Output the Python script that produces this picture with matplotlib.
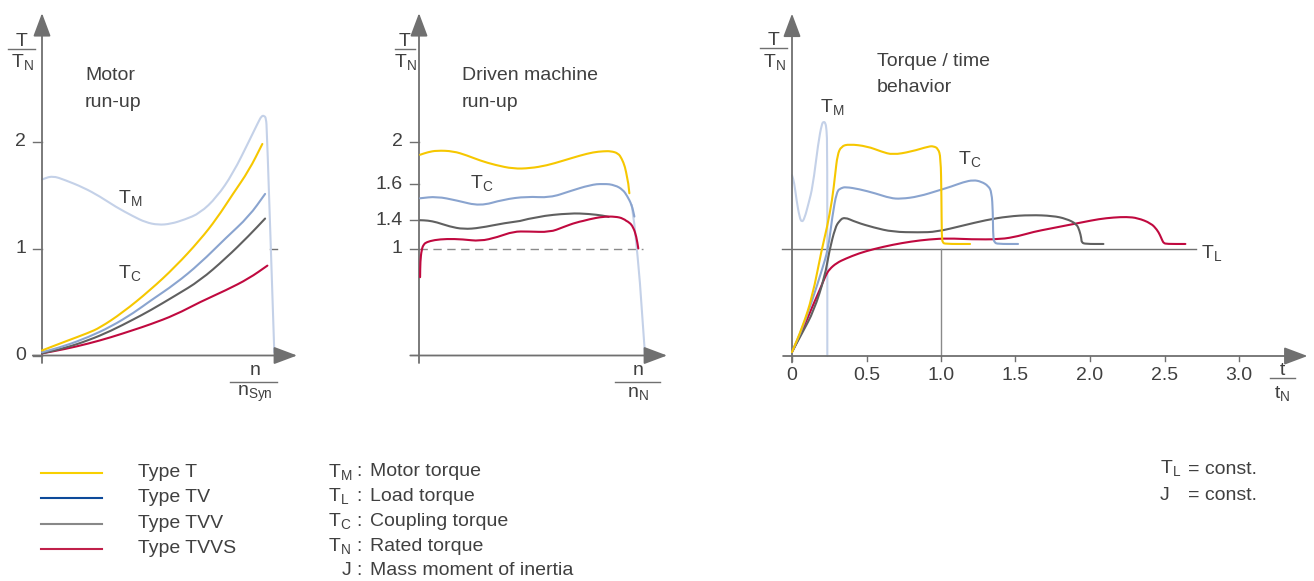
import numpy as np
import matplotlib
matplotlib.use('Agg')
import matplotlib.pyplot as plt
from matplotlib.lines import Line2D
from matplotlib.path import Path
from matplotlib.patches import PathPatch

plt.rcParams['font.family'] = ['Liberation Sans', 'DejaVu Sans']
plt.rcParams['mathtext.default'] = 'regular'

# ---- data -------------------------------------------------------------
# Motor run-up (x = n/nSyn, y = T/TN)
tm_left_x = [0, 0.045, 0.1, 0.18, 0.252, 0.32, 0.397, 0.45, 0.505, 0.56, 0.62, 0.687, 0.76, 0.83,
             0.904, 0.94, 0.955, 0.966, 0.974, 0.978, 1.01]
tm_left_y = [1.645, 1.68, 1.64, 1.57, 1.486, 1.39, 1.30, 1.245, 1.22, 1.23, 1.27, 1.33, 1.48, 1.70,
             2.02, 2.18, 2.24, 2.24, 2.22, 2.1, 0.03]
t_left_x = [0, 0.1, 0.2, 0.252, 0.35, 0.47, 0.58, 0.687, 0.76, 0.83, 0.9, 0.958]
t_left_y = [0.047, 0.13, 0.21, 0.26, 0.40, 0.61, 0.83, 1.08, 1.28, 1.51, 1.73, 1.977]
tv_left_x = [0, 0.1, 0.2, 0.3, 0.4, 0.47, 0.58, 0.687, 0.8, 0.9, 0.97]
tv_left_y = [0.03, 0.09, 0.17, 0.27, 0.40, 0.51, 0.67, 0.86, 1.10, 1.30, 1.51]
tvv_left_x = [0, 0.1, 0.2, 0.3, 0.4, 0.47, 0.58, 0.687, 0.8, 0.9, 0.97]
tvv_left_y = [0.02, 0.07, 0.14, 0.23, 0.34, 0.42, 0.56, 0.70, 0.91, 1.12, 1.28]
tvvs_left_x = [0, 0.1, 0.2, 0.3, 0.4, 0.47, 0.58, 0.687, 0.8, 0.9, 0.98]
tvvs_left_y = [0.02, 0.06, 0.11, 0.17, 0.24, 0.29, 0.38, 0.50, 0.61, 0.72, 0.84]

# Driven machine run-up (x = n/nN)
t_mid_x = [0.005, 0.04, 0.081, 0.157, 0.22, 0.28, 0.35, 0.433, 0.51, 0.586, 0.66, 0.739, 0.8, 0.846,
           0.88, 0.914, 0.93, 0.945, 0.955, 0.965]
t_mid_y = [1.876, 1.9, 1.916, 1.91, 1.87, 1.822, 1.78, 1.745, 1.75, 1.776, 1.82, 1.869, 1.9, 1.909,
           1.91, 1.89, 1.84, 1.765, 1.66, 1.55]
tv_mid_x = [0.005, 0.081, 0.173, 0.28, 0.387, 0.494, 0.601, 0.693, 0.784, 0.846, 0.9, 0.935, 0.955,
            0.976, 0.988]
tv_mid_y = [1.522, 1.532, 1.51, 1.478, 1.515, 1.532, 1.525, 1.562, 1.596, 1.605, 1.595, 1.57, 1.535,
            1.485, 1.42]
tm_mid_x = [0.976, 0.99, 1.037]
tm_mid_y = [1.485, 1.35, 0.0]
tvv_mid_x = [0.005, 0.04, 0.081, 0.14, 0.204, 0.28, 0.387, 0.54, 0.693, 0.78, 0.846, 0.87]
tvv_mid_y = [1.399, 1.395, 1.371, 1.31, 1.272, 1.29, 1.357, 1.42, 1.439, 1.435, 1.425, 1.418]
tvvs_mid_x = [0.005, 0.006, 0.012, 0.022, 0.035, 0.07, 0.127, 0.2, 0.28, 0.36, 0.433, 0.5, 0.601,
              0.66, 0.723, 0.78, 0.846, 0.9, 0.937, 0.965, 0.983, 0.997, 1.006]
tvvs_mid_y = [0.732, 0.88, 0.99, 1.06, 1.09, 1.12, 1.136, 1.13, 1.103, 1.16, 1.24, 1.24, 1.23,
              1.3, 1.371, 1.405, 1.42, 1.42, 1.41, 1.37, 1.30, 1.17, 1.0]
mid_ticks = [1, 1.4, 1.6, 2]
# the middle axis is drawn schematically, not to scale
mid_val_knots = [-1, 0, 1, 1.4, 1.6, 2, 4]
mid_pos_knots = [-1, 0, 1, 1.265, 1.6, 2, 4]

# Torque / time behavior (x = t/tN)
tm_r_x = [0, 0.015, 0.03, 0.05, 0.066, 0.085, 0.11, 0.139, 0.176, 0.2, 0.212, 0.224, 0.232, 0.237, 0.237]
tm_r_y = [1.69, 1.62, 1.46, 1.3, 1.247, 1.29, 1.42, 1.58, 1.99, 2.17, 2.19, 2.18, 2.12, 1.95, 0.0]
t_r_x = [0, 0.07, 0.136, 0.2, 0.235, 0.27, 0.29, 0.305, 0.33, 0.383, 0.505, 0.6, 0.676, 0.8, 0.92,
         0.95, 0.98, 0.998, 1.003, 1.005, 1.012, 1.027, 1.195]
t_r_y = [0.037, 0.27, 0.55, 1.0, 1.2, 1.46, 1.7, 1.88, 1.96, 1.98, 1.96, 1.91, 1.88, 1.91, 1.96,
         1.96, 1.94, 1.86, 1.5, 1.1, 1.06, 1.047, 1.047]
tv_r_x = [0, 0.07, 0.136, 0.2, 0.243, 0.27, 0.3, 0.33, 0.36, 0.45, 0.56, 0.66, 0.73, 0.85, 0.99, 1.07,
          1.15, 1.217, 1.27, 1.318, 1.34, 1.348, 1.35, 1.36, 1.38, 1.517]
tv_r_y = [0.037, 0.26, 0.52, 0.80, 1.0, 1.3, 1.54, 1.57, 1.58, 1.56, 1.52, 1.475, 1.468, 1.49, 1.55,
          1.584, 1.625, 1.645, 1.63, 1.59, 1.53, 1.35, 1.1, 1.06, 1.047, 1.047]
tvv_r_x = [0, 0.07, 0.146, 0.22, 0.25, 0.29, 0.316, 0.35, 0.43, 0.55, 0.676, 0.85, 0.97, 1.15, 1.3,
           1.45, 1.6, 1.75, 1.84, 1.91, 1.93, 1.942, 1.944, 1.97, 2.09]
tvv_r_y = [0.037, 0.22, 0.42, 0.74, 0.98, 1.2, 1.26, 1.3, 1.25, 1.2, 1.16, 1.155, 1.16, 1.22, 1.27,
           1.305, 1.318, 1.31, 1.283, 1.235, 1.17, 1.1, 1.06, 1.047, 1.047]
tvvs_r_x = [0, 0.07, 0.136, 0.19, 0.225, 0.25, 0.3, 0.36, 0.45, 0.55, 0.676, 0.8, 0.92, 1.05, 1.2,
            1.4, 1.52, 1.62, 1.73, 1.84, 1.95, 2.06, 2.16, 2.246, 2.32, 2.41, 2.45, 2.47, 2.485,
            2.495, 2.515, 2.64]
tvvs_r_y = [0.037, 0.24, 0.46, 0.63, 0.75, 0.81, 0.87, 0.91, 0.96, 1.0, 1.04, 1.07, 1.09, 1.1, 1.09,
            1.09, 1.12, 1.16, 1.19, 1.22, 1.25, 1.28, 1.295, 1.30, 1.29, 1.24, 1.18, 1.13, 1.08,
            1.055, 1.047, 1.047]
time_ticks = [0, 0.5, 1.0, 1.5, 2.0, 2.5, 3.0]
time_labels = ['0', '0.5', '1.0', '1.5', '2.0', '2.5', '3.0']

legend_names = ['Type T', 'Type TV', 'Type TVV', 'Type TVVS']
legend_colors = ['#f8d000', '#0d4a9a', '#888888', '#c0204a']
symbols = ['T$_M$', 'T$_L$', 'T$_C$', 'T$_N$']
symbol_text = ['Motor torque', 'Load torque', 'Coupling torque', 'Rated torque', 'Mass moment of inertia']

# ---- style ------------------------------------------------------------
YEL = '#f6c700'
BLU = '#8aa4cf'
GRY = '#606060'
RED = '#c0093f'
TMC = '#c4d1e8'
AXC = '#707070'
TXT = '#404040'
FS = 14
LW = 1.5

W, H = 1314, 581
fig = plt.figure(figsize=(W / 100, H / 100), dpi=100)


def panel(x0, y0, sx, sy, xlim, ylim):
    # x0, y0: pixel position of data origin, sx, sy: pixels per unit
    left = x0 + xlim[0] * sx
    right = x0 + xlim[1] * sx
    top = y0 - ylim[1] * sy
    bottom = y0 - ylim[0] * sy
    ax = fig.add_axes([left / W, 1 - bottom / H, (right - left) / W, (bottom - top) / H])
    ax.set_xlim(xlim)
    ax.set_ylim(ylim)
    ax.axis('off')
    return ax


def arrows(ax, x0, x1, y0, y1):
    ap = dict(arrowstyle='-|>,head_length=0.8,head_width=0.3', color=AXC, lw=1.3,
              shrinkA=0, shrinkB=0, mutation_scale=18)
    ax.annotate('', xy=(x1, 0), xytext=(x0, 0), arrowprops=ap)
    ax.annotate('', xy=(0, y1), xytext=(0, y0), arrowprops=ap)


def ftext(x, y, s, **kw):
    kw.setdefault('fontsize', FS)
    kw.setdefault('color', TXT)
    fig.text(x / W, 1 - y / H, s, **kw)


def fline(x1, x2, y, color=AXC, lw=1.0):
    fig.add_artist(Line2D([x1 / W, x2 / W], [1 - y / H, 1 - y / H], color=color, lw=lw))


def frac(xc, yl, x1, x2, top, bottom, top_base, bot_base):
    ftext(xc, top_base, top, ha='center', va='baseline')
    fline(x1, x2, yl)
    ftext(xc, bot_base, bottom, ha='center', va='baseline')


def curve(ax, x, y, c, z=3):
    # rounded drawing of the read points (quadratic pieces between midpoints)
    p = np.column_stack([x, y]).astype(float)
    verts = [p[0]]
    codes = [Path.MOVETO]
    if len(p) > 2:
        verts.append((p[0] + p[1]) / 2)
        codes.append(Path.LINETO)
        for i in range(1, len(p) - 1):
            verts += [p[i], (p[i] + p[i + 1]) / 2]
            codes += [Path.CURVE3, Path.CURVE3]
    verts.append(p[-1])
    codes.append(Path.LINETO)
    ax.add_patch(PathPatch(Path(verts, codes), fill=False, edgecolor=c, lw=LW, zorder=z,
                           capstyle='round', joinstyle='round'))


# ---- left: motor run-up ----------------------------------------------
axL = panel(42, 355.5, 230, 107, (-0.1, 1.2), (-0.12, 3.25))
arrows(axL, -0.04, 1.109, -0.07, 3.2)
for v in [0, 1, 2]:
    axL.plot([-0.04, 0], [v, v], color=AXC, lw=1.0)
    axL.text(-0.068, v, str(v), ha='right', va='center', fontsize=FS, color=TXT)
axL.plot([0.99, 1.02], [1, 1], color=AXC, lw=1.0)
curve(axL, tm_left_x, tm_left_y, TMC, 2)
curve(axL, tvvs_left_x, tvvs_left_y, RED)
curve(axL, tvv_left_x, tvv_left_y, GRY)
curve(axL, tv_left_x, tv_left_y, BLU)
curve(axL, t_left_x, t_left_y, YEL)
ftext(85, 80, 'Motor', va='baseline')
ftext(85, 107, 'run-up', va='baseline')
ftext(118, 203, 'T$_M$', va='baseline')
ftext(118, 278, 'T$_C$', va='baseline')
frac(22, 48.5, 8, 35, 'T', 'T$_N$', 46.5, 66.5)
frac(255, 381.7, 230, 277, 'n', 'n$_{Syn}$', 375, 396.5)

# ---- middle: driven machine run-up ----------------------------------
axM = panel(419, 355.5, 218, 107, (-0.1, 1.25), (-0.12, 3.25))
fwd = lambda v: np.interp(v, mid_val_knots, mid_pos_knots)
inv = lambda p: np.interp(p, mid_pos_knots, mid_val_knots)
axM.set_yscale('function', functions=(fwd, inv))
axM.set_ylim(-0.12, 3.25)
axM.axis('off')
arrows(axM, -0.04, 1.138, -0.07, 3.2)
for v in mid_ticks:
    axM.plot([-0.041, 0], [v, v], color=AXC, lw=1.0)
    axM.text(-0.075, v, f'{v:g}', ha='right', va='center', fontsize=FS, color=TXT)
axM.plot([0, 1.027], [1, 1], color='#8a8a8a', lw=1.0, ls=(0, (6, 4)))
curve(axM, tm_mid_x, tm_mid_y, TMC, 2)
curve(axM, tvv_mid_x, tvv_mid_y, GRY)
curve(axM, tvvs_mid_x, tvvs_mid_y, RED)
curve(axM, tv_mid_x, tv_mid_y, BLU)
curve(axM, t_mid_x, t_mid_y, YEL)
ftext(462, 80, 'Driven machine', va='baseline')
ftext(462, 107, 'run-up', va='baseline')
ftext(470, 188, 'T$_C$', va='baseline')
frac(405, 48.5, 395, 415, 'T', 'T$_N$', 46.5, 66.5)
frac(638, 381.7, 615, 660, 'n', 'n$_N$', 375, 396.5)

# ---- right: torque / time behaviour ---------------------------------
axR = panel(792, 356, 149, 107, (-0.2, 3.55), (-0.3, 3.25))
arrows(axR, -0.06, 3.46, -0.06, 3.2)
for t, lab in zip(time_ticks, time_labels):
    axR.plot([t, t], [0, -0.045], color=AXC, lw=1.0)
    axR.text(t, -0.18, lab, ha='center', va='center', fontsize=FS, color=TXT)
axR.plot([-0.068, 2.71], [1, 1], color=AXC, lw=1.0, zorder=1)
axR.plot([1.0, 1.0], [0, 1], color='#8a8a8a', lw=1.0, zorder=1)
curve(axR, tm_r_x, tm_r_y, TMC, 2)
curve(axR, tvvs_r_x, tvvs_r_y, RED)
curve(axR, tvv_r_x, tvv_r_y, GRY)
curve(axR, tv_r_x, tv_r_y, BLU)
curve(axR, t_r_x, t_r_y, YEL)
ftext(877, 66.5, 'Torque / time', va='baseline')
ftext(877, 92.5, 'behavior', va='baseline')
ftext(820, 112, 'T$_M$', va='baseline')
ftext(958, 164, 'T$_C$', va='baseline')
ftext(1201, 258, 'T$_L$', va='baseline')
frac(774, 48.3, 760, 787, 'T', 'T$_N$', 45, 66.5)
frac(1282, 377.7, 1270, 1295, 't', 't$_N$', 375, 398)

# ---- legend -----------------------------------------------------------
for i, (name, c) in enumerate(zip(legend_names, legend_colors)):
    y = 472.7 + i * 25.4
    fline(41, 102, y, color=c, lw=1.5)
    ftext(138, y + 4, name, va='baseline')
for i, txt in enumerate(symbol_text):
    y = 476.5 + i * 24.7
    if i < len(symbols):
        ftext(328, y, symbols[i], va='baseline')
    else:
        ftext(342, y, 'J', va='baseline')
    ftext(356, y, ':', va='baseline')
    ftext(370, y, txt, va='baseline')
ftext(1160, 473.5, 'T$_L$', va='baseline')
ftext(1188, 473.5, '= const.', va='baseline')
ftext(1160, 499.5, 'J', va='baseline')
ftext(1188, 499.5, '= const.', va='baseline')

fig.savefig('out.png', dpi=100)
